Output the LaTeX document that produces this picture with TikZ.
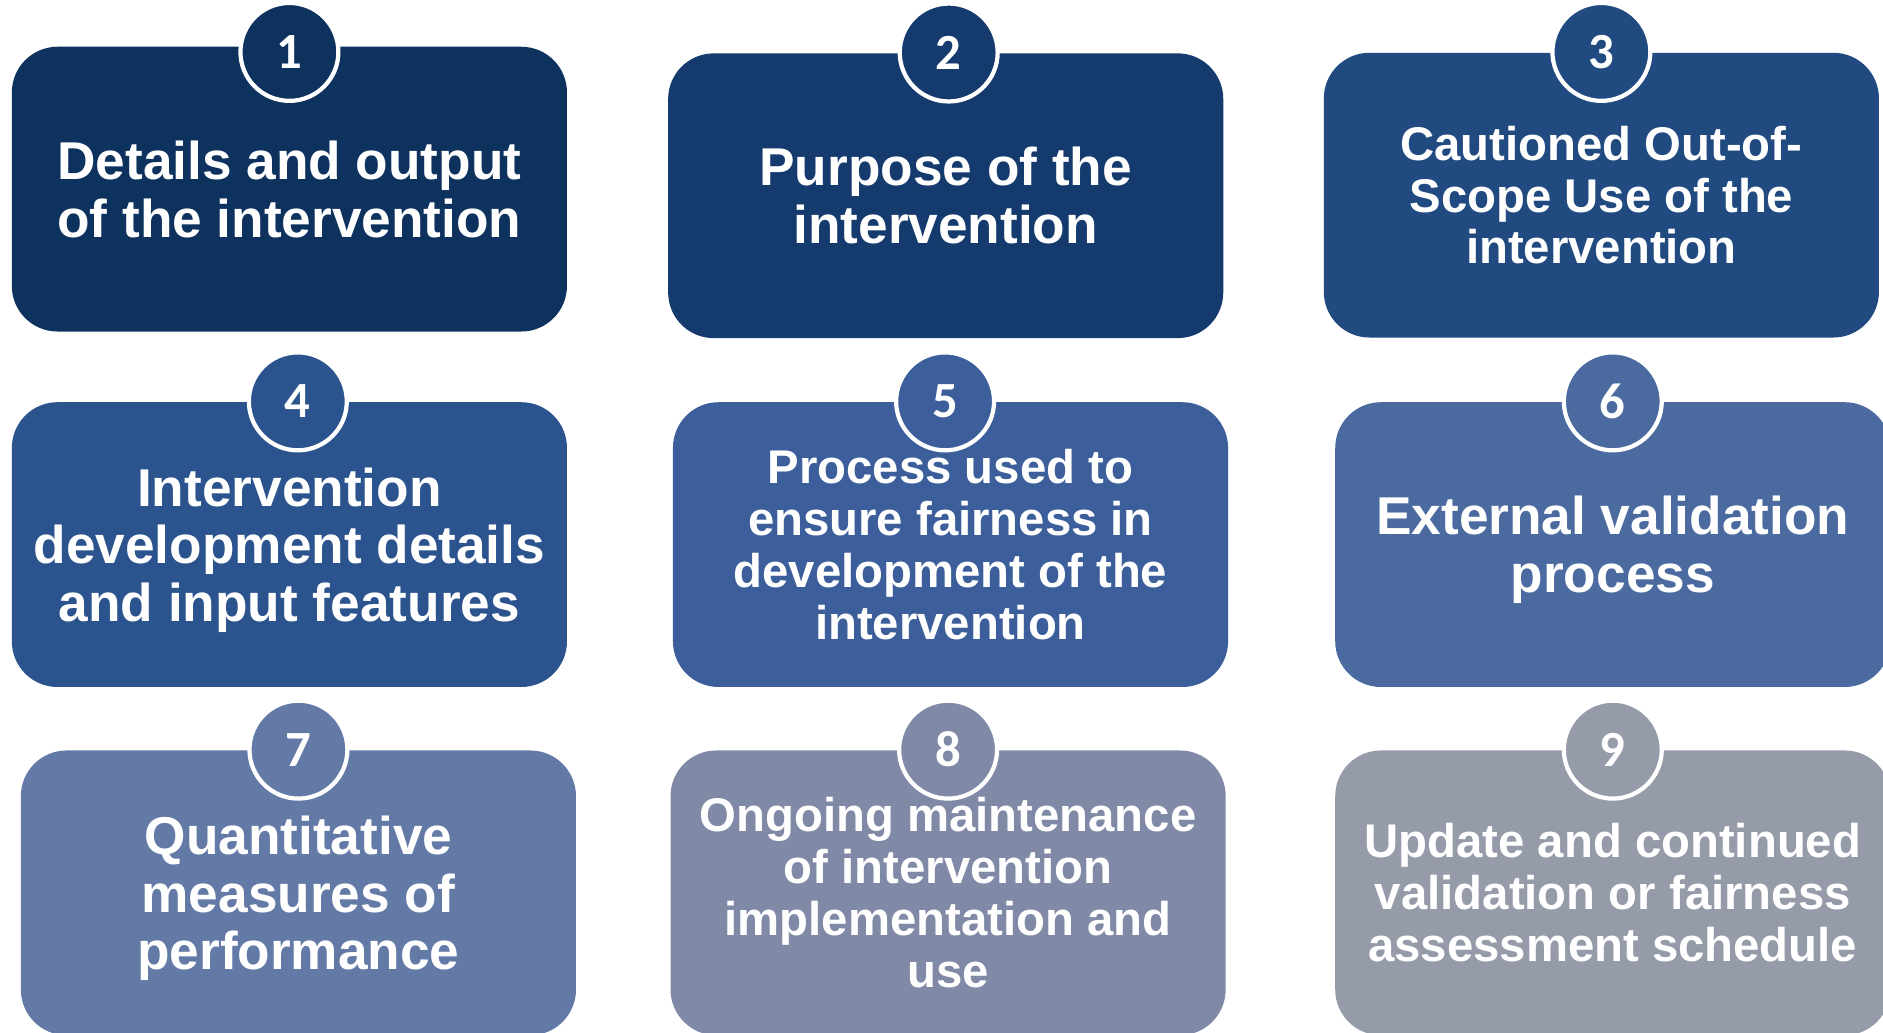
\documentclass[tikz,border=0pt]{standalone}
\usepackage{fontspec}
\setmainfont{Liberation Sans}
\newfontfamily\numfont{Carlito}
\usetikzlibrary{positioning, calc}

\definecolor{stepA}{HTML}{0E325E}
\definecolor{stepB}{HTML}{153A6E}
\definecolor{stepC}{HTML}{214A80}
\definecolor{stepD}{HTML}{2B538E}
\definecolor{stepE}{HTML}{3C5F9B}
\definecolor{stepF}{HTML}{4B6BA0}
\definecolor{stepG}{HTML}{647AA6}
\definecolor{stepH}{HTML}{808AA6}
\definecolor{stepI}{HTML}{969BAA}

\tikzset{%
	card/.style={rectangle, rounded corners=0.38cm, minimum width=4.62cm,%
		minimum height=2.37cm, inner sep=0mm, text=white, align=center,%
		font=\bfseries\fontsize{12.6}{13.7}\selectfont},
	cardsmall/.style={font=\bfseries\fontsize{11.2}{12.3}\selectfont},
	num/.style={circle, draw=white, line width=1pt, minimum size=8.15mm,%
		inner sep=0mm, text=white, font=\numfont\bfseries\fontsize{12}{12}\selectfont}
}

\begin{document}
\begin{tikzpicture}[x=0.01cm, y=0.01cm]
			\clip (0,0) rectangle (1568,860);
			\fill[white] (0,0) rectangle (1568,860);

			% top row
			\node[card, fill=stepA] (b1) at (241,702.5) {Details and output\\of the intervention};
			\node[card, fill=stepB] (b2) at (787.5,697) {Purpose of the\\intervention};
			\node[card, cardsmall, fill=stepC] (b3) at (1333.5,697.5) {Cautioned Out-of-\\Scope Use of the\\intervention};

			% middle row (descenders smashed so the lines sit centred)
			\node[card, fill=stepD] (b4) at (241,406.5) {Intervention\\development details\\\smash{and input features}};
			\node[card, cardsmall, fill=stepE] (b5) at (791.5,406.5) {Process used to\\ensure fairness in\\development of the\\intervention};
			\node[card, fill=stepF] (b6) at (1343,406.5) {External validation\\\smash{process}};

			% bottom row
			\node[card, fill=stepG] (b7) at (248.5,116.5) {Quantitative\\measures of\\\smash{performance}};
			\node[card, cardsmall, fill=stepH] (b8) at (789.5,116.5) {Ongoing maintenance\\of intervention\\implementation and\\use};
			\node[card, cardsmall, fill=stepI] (b9) at (1343,116.5) {Update and continued\\validation or fairness\\assessment schedule};

			% numbered badges
			\node[num, fill=stepA] (n1) at ($(b1.north)+(0,-5)$) {1};
			\node[num, fill=stepB] (n2) at ($(b2.north)+(2.5,0)$) {2};
			\node[num, fill=stepC] (n3) at (b3.north) {3};
			\node[num, fill=stepD] (n4) at ($(b4.north)+(7,0)$) {4};
			\node[num, fill=stepE] (n5) at ($(b5.north)+(-4.5,0)$) {5};
			\node[num, fill=stepF] (n6) at (b6.north) {6};
			\node[num, fill=stepG] (n7) at (b7.north) {7};
			\node[num, fill=stepH] (n8) at (b8.north) {8};
			\node[num, fill=stepI] (n9) at (b9.north) {9};
		\end{tikzpicture}
\end{document}
